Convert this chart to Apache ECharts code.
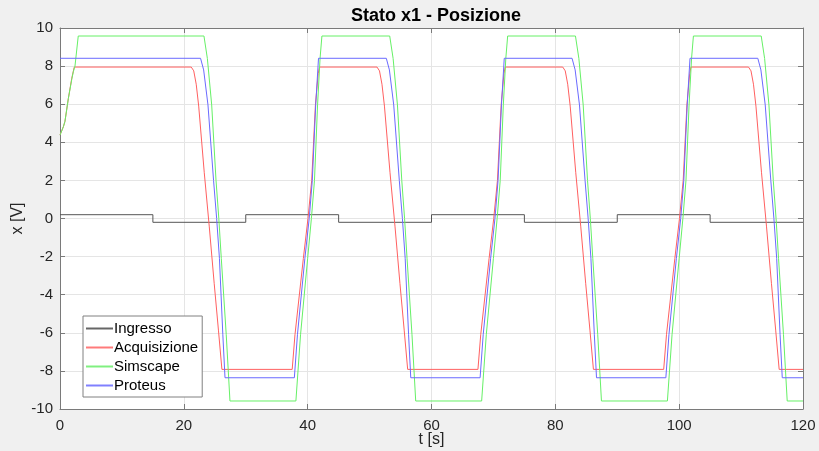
<!DOCTYPE html>
<html>
<head>
<meta charset="utf-8">
<script src="https://cdn.jsdelivr.net/npm/echarts@6/dist/echarts.min.js"></script>
<style>html,body{margin:0;padding:0;background:#f0f0f0;}#c{width:819px;height:451px;}</style>
</head>
<body>
<div id="c"></div>
<script>
const xTicks = [0, 20, 40, 60, 80, 100, 120];
const yTicks = [-10, -8, -6, -4, -2, 0, 2, 4, 6, 8, 10];

const ingressoT = [0, 15, 15, 30, 30, 45, 45, 60, 60, 75, 75, 90, 90, 105, 105, 120];
const ingressoV = [0.2, 0.2, -0.2, -0.2, 0.2, 0.2, -0.2, -0.2, 0.2, 0.2, -0.2, -0.2, 0.2, 0.2, -0.2, -0.2];

const acqT = [0, 0.2, 0.55, 0.8, 1.35, 1.9, 2.3,
  21.2, 21.6, 22.0, 22.4, 23.3, 24.1, 24.9, 25.6, 26.15,
  37.5, 37.95, 39.3, 40.05, 40.65, 41.25, 41.7, 41.9,
  51.2, 51.6, 52.0, 52.4, 53.3, 54.1, 54.9, 55.6, 56.15,
  67.5, 67.95, 69.3, 70.05, 70.65, 71.25, 71.7, 71.9,
  81.2, 81.6, 82.0, 82.4, 83.3, 84.1, 84.9, 85.6, 86.15,
  97.5, 97.95, 99.3, 100.05, 100.65, 101.25, 101.7, 101.9,
  111.2, 111.6, 112.0, 112.4, 113.3, 114.1, 114.9, 115.6, 116.15, 120];
const acqV = [4.38, 4.42, 4.82, 5.1, 6.3, 7.36, 7.95,
  7.95, 7.75, 7.05, 5.9, 2.4, -0.4, -3.4, -5.9, -7.92,
  -7.92, -6.1, -2.1, 0, 2.0, 5.96, 7.6, 7.95,
  7.95, 7.75, 7.05, 5.9, 2.4, -0.4, -3.4, -5.9, -7.92,
  -7.92, -6.1, -2.1, 0, 2.0, 5.96, 7.6, 7.95,
  7.95, 7.75, 7.05, 5.9, 2.4, -0.4, -3.4, -5.9, -7.92,
  -7.92, -6.1, -2.1, 0, 2.0, 5.96, 7.6, 7.95,
  7.95, 7.75, 7.05, 5.9, 2.4, -0.4, -3.4, -5.9, -7.92, -7.92];

const simT = [0, 0.55, 0.8, 1.35, 1.9, 2.15, 2.42, 2.95,
  23.25, 23.8, 24.5, 25.2, 25.65, 26.05, 26.85, 27.45,
  38.1, 38.85, 40.0, 40.6, 41.1, 41.6, 42.0, 42.3,
  53.25, 53.8, 54.5, 55.2, 55.65, 56.05, 56.85, 57.45,
  68.1, 68.85, 70.0, 70.6, 71.1, 71.6, 72.0, 72.3,
  83.25, 83.8, 84.5, 85.2, 85.65, 86.05, 86.85, 87.45,
  98.1, 98.85, 100.0, 100.6, 101.1, 101.6, 102.0, 102.3,
  113.25, 113.8, 114.5, 115.2, 115.65, 116.05, 116.85, 117.45, 120];
const simV = [4.38, 4.82, 5.1, 6.3, 7.3, 7.7, 8.0, 9.58,
  9.58, 8.4, 5.96, 2.0, 0, -2.09, -6.1, -9.58,
  -9.58, -6.1, -2.09, 0, 2.0, 5.96, 8.4, 9.58,
  9.58, 8.4, 5.96, 2.0, 0, -2.09, -6.1, -9.58,
  -9.58, -6.1, -2.09, 0, 2.0, 5.96, 8.4, 9.58,
  9.58, 8.4, 5.96, 2.0, 0, -2.09, -6.1, -9.58,
  -9.58, -6.1, -2.09, 0, 2.0, 5.96, 8.4, 9.58,
  9.58, 8.4, 5.96, 2.0, 0, -2.09, -6.1, -9.58, -9.58];

const proT = [0,
  22.7, 23.2, 23.9, 24.8, 25.3, 25.75, 26.3, 26.65,
  37.85, 38.35, 39.55, 40.25, 40.75, 41.3, 41.75,
  52.7, 53.2, 53.9, 54.8, 55.3, 55.75, 56.3, 56.65,
  67.85, 68.35, 69.55, 70.25, 70.75, 71.3, 71.75,
  82.7, 83.2, 83.9, 84.8, 85.3, 85.75, 86.3, 86.65,
  97.85, 98.35, 99.55, 100.25, 100.75, 101.3, 101.75,
  112.7, 113.2, 113.9, 114.8, 115.3, 115.75, 116.3, 116.65, 120];
const proV = [8.41,
  8.41, 7.8, 5.96, 2.0, 0, -2.09, -6.1, -8.36,
  -8.36, -6.1, -2.09, 0, 2.0, 5.96, 8.41,
  8.41, 7.8, 5.96, 2.0, 0, -2.09, -6.1, -8.36,
  -8.36, -6.1, -2.09, 0, 2.0, 5.96, 8.41,
  8.41, 7.8, 5.96, 2.0, 0, -2.09, -6.1, -8.36,
  -8.36, -6.1, -2.09, 0, 2.0, 5.96, 8.41,
  8.41, 7.8, 5.96, 2.0, 0, -2.09, -6.1, -8.36, -8.36];

const zip = (t, v) => t.map((x, i) => [x, v[i]]);

const chart = echarts.init(document.getElementById('c'), null, {renderer: 'canvas'});
const FONT = '"Liberation Sans", Arial, Helvetica, sans-serif';
const axisCol = '#7a7a7a';
const txtCol = '#262626';

function xAx(pos, show) {
  return {
    type: 'value', position: pos, min: xTicks[0], max: xTicks[xTicks.length - 1], interval: 20,
    name: show ? 't [s]' : '', nameLocation: 'middle', nameGap: 23, nameMoveOverlap: false,
    nameTextStyle: {fontFamily: FONT, fontSize: 16, color: txtCol},
    axisLine: {show: true, onZero: false, lineStyle: {color: axisCol, width: 1}},
    axisTick: {show: true, inside: true, length: 5, lineStyle: {color: axisCol}},
    axisLabel: {show: show, fontFamily: FONT, fontSize: 15, color: txtCol, margin: 9},
    splitLine: {show: show, lineStyle: {color: '#e5e5e5', width: 1}}
  };
}
function yAx(pos, show) {
  return {
    type: 'value', position: pos, min: yTicks[0], max: yTicks[yTicks.length - 1], interval: 2,
    name: show ? 'x [V]' : '', nameLocation: 'middle', nameGap: 34, nameRotate: 90, nameMoveOverlap: false,
    nameTextStyle: {fontFamily: FONT, fontSize: 16, color: txtCol},
    axisLine: {show: true, onZero: false, lineStyle: {color: axisCol, width: 1}},
    axisTick: {show: true, inside: true, length: 5, lineStyle: {color: axisCol}},
    axisLabel: {show: show, fontFamily: FONT, fontSize: 15, color: txtCol, margin: 7},
    splitLine: {show: show, lineStyle: {color: '#e5e5e5', width: 1}}
  };
}

const lineSeries = (name, data, color, z) => ({
  name, type: 'line', data, showSymbol: false, symbol: 'none', animation: false,
  lineStyle: {color, width: 1}, itemStyle: {color}, z, xAxisIndex: 0, yAxisIndex: 0
});

chart.setOption({
  backgroundColor: '#f0f0f0',
  animation: false,
  title: {
    text: 'Stato x1 - Posizione', left: 431, top: 2, textAlign: 'center',
    textStyle: {fontFamily: FONT, fontSize: 18, fontWeight: 'bold', color: '#000'}
  },
  grid: {left: 60, right: 16, top: 28, bottom: 42, show: true, backgroundColor: '#ffffff', borderWidth: 0,
    containLabel: false, outerBoundsMode: 'none'},
  xAxis: [xAx('bottom', true), xAx('top', false)],
  yAxis: [yAx('left', true), yAx('right', false)],
  legend: {
    orient: 'vertical', left: 83, top: 316, itemGap: 4, itemWidth: 27, itemHeight: 2,
    icon: 'rect', padding: [5, 4, 4, 3],
    backgroundColor: '#ffffff', borderColor: '#808080', borderWidth: 1,
    textStyle: {fontFamily: FONT, fontSize: 15, color: '#000', padding: [0, 0, 0, -4]},
    data: [
      {name: 'Ingresso', itemStyle: {color: '#666666'}},
      {name: 'Acquisizione', itemStyle: {color: '#ff7a7a'}},
      {name: 'Simscape', itemStyle: {color: '#80f080'}},
      {name: 'Proteus', itemStyle: {color: '#8080ff'}}
    ]
  },
  series: [
    lineSeries('Ingresso', zip(ingressoT, ingressoV), '#555555', 2),
    lineSeries('Acquisizione', zip(acqT, acqV), '#ff6060', 3),
    lineSeries('Simscape', zip(simT, simV), '#66f066', 3),
    lineSeries('Proteus', zip(proT, proV), '#6a6aff', 4)
  ]
});
</script>
</body>
</html>
